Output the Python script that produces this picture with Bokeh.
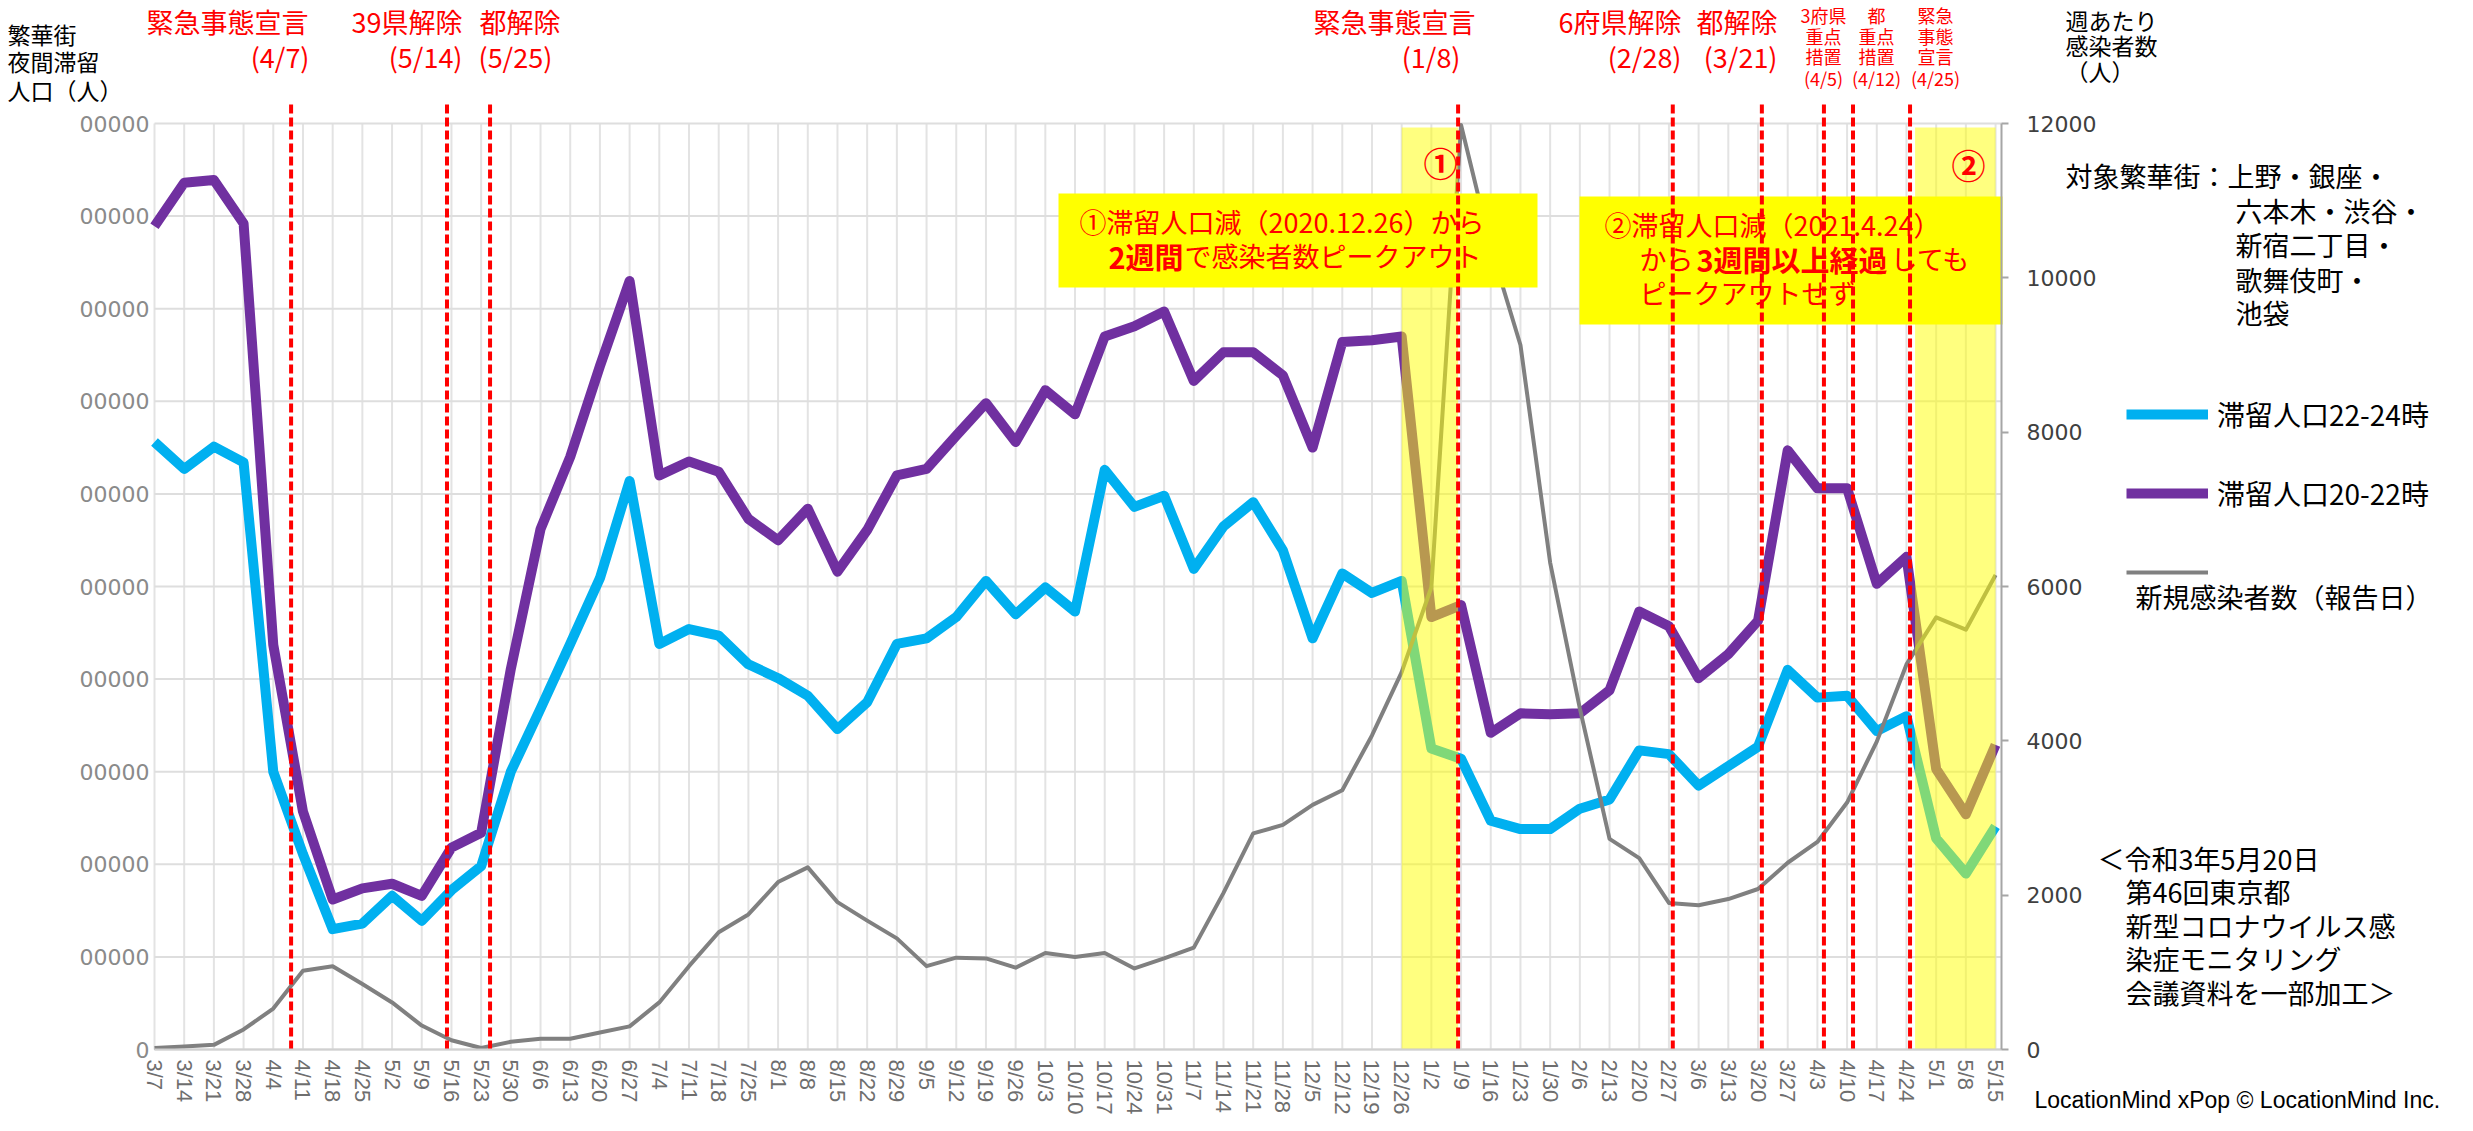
import math
from bokeh.plotting import figure
from bokeh.models import (Range1d, LinearAxis, FixedTicker, Label, Legend, LegendItem,
                          ColumnDataSource)
from bokeh.embed import file_html
from bokeh.resources import INLINE
from bokeh.core.properties import value

# ---------------- data ----------------
dates = ["3/7", "3/14", "3/21", "3/28", "4/4", "4/11", "4/18", "4/25", "5/2", "5/9",
         "5/16", "5/23", "5/30", "6/6", "6/13", "6/20", "6/27", "7/4", "7/11", "7/18",
         "7/25", "8/1", "8/8", "8/15", "8/22", "8/29", "9/5", "9/12", "9/19", "9/26",
         "10/3", "10/10", "10/17", "10/24", "10/31", "11/7", "11/14", "11/21", "11/28", "12/5",
         "12/12", "12/19", "12/26", "1/2", "1/9", "1/16", "1/23", "1/30", "2/6", "2/13",
         "2/20", "2/27", "3/6", "3/13", "3/20", "3/27", "4/3", "4/10", "4/17", "4/24",
         "5/1", "5/8", "5/15"]

pop_22_24 = [656000, 627000, 651000, 634000, 300000, 211000, 130000, 136000, 166000, 139000,
             172000, 198000, 300000, 368000, 438000, 509000, 614000, 438000, 454000, 447000,
             416000, 401000, 382000, 346000, 375000, 438000, 444000, 467000, 506000, 470000,
             499000, 473000, 626000, 586000, 598000, 519000, 565000, 591000, 539000, 444000,
             514000, 493000, 506000, 325000, 314000, 247000, 238000, 238000, 260000, 270000,
             323000, 319000, 285000, 306000, 327000, 410000, 380000, 382000, 344000, 360000,
             228000, 190000, 241000]

pop_20_22 = [889000, 936000, 939000, 892000, 437000, 257000, 162000, 174000, 179000, 166000,
             218000, 234000, 411000, 562000, 640000, 738000, 830000, 620000, 635000, 624000,
             573000, 550000, 584000, 516000, 561000, 620000, 627000, 663000, 698000, 656000,
             712000, 686000, 770000, 781000, 797000, 722000, 753000, 753000, 728000, 650000,
             764000, 766000, 770000, 467000, 480000, 342000, 363000, 362000, 363000, 388000,
             473000, 457000, 401000, 427000, 463000, 647000, 606000, 606000, 503000, 532000,
             303000, 254000, 329000]

new_cases = [20, 40, 60, 260, 530, 1020, 1080, 850, 610, 310,
             120, 20, 100, 140, 140, 220, 300, 610, 1080, 1520,
             1750, 2170, 2360, 1910, 1670, 1440, 1080, 1190, 1180, 1060,
             1250, 1200, 1250, 1050, 1180, 1320, 2030, 2800, 2910, 3170,
             3360, 4070, 4890, 5990, 11980, 10400, 9130, 6310, 4420, 2730,
             2480, 1900, 1870, 1950, 2080, 2420, 2690, 3200, 3990, 4990,
             5600, 5440, 6150]

left_ticks = [0, 100000, 200000, 300000, 400000, 500000, 600000, 700000, 800000, 900000, 1000000]
left_tick_labels = ["0", "00000", "00000", "00000", "00000", "00000",
                    "00000", "00000", "00000", "00000", "00000"]
right_ticks = [0, 2000, 4000, 6000, 8000, 10000, 12000]

series_names = ["滞留人口22-24時", "滞留人口20-22時", "新規感染者数（報告日）"]

# event markers (position on the weekly axis, as drawn in the source chart)
event_labels = ["4/7", "5/14", "5/25", "1/8", "2/28", "3/21", "4/5", "4/12", "4/25"]
event_pos = [4.6, 9.85, 11.3, 43.9, 51.13, 54.13, 56.22, 57.2, 59.12]
# highlighted periods: 12/26 -> 1/8 and 4/26 -> 5/15
band_start = [42.0, 59.29]
band_end = [43.9, 62.0]

# ---------------- geometry (page px -> data) ----------------
W, H = 2457, 1115
PAGE_L, PAGE_T = 8, 8
FRAME_L, FRAME_R, FRAME_B = 162, 2009, 1057
X_END = 62.2
PX_PER_UNIT = 92.6 / 100000.0
CASE_PX = 926.0 / 12000.0


def PX(xp):
    return (xp - FRAME_L) * X_END / (FRAME_R - FRAME_L)


def PY(yp):
    return (FRAME_B - yp) / PX_PER_UNIT


def PC(yp):
    return (FRAME_B - yp) / CASE_PX


p = figure(width=W, height=H,
           x_range=Range1d(PX(PAGE_L), PX(PAGE_L + W)),
           y_range=Range1d(PY(PAGE_T + H), PY(PAGE_T)),
           x_axis_type=None, y_axis_type=None,
           output_backend="svg", toolbar_location=None,
           min_border=0, min_border_left=0, min_border_right=0,
           min_border_top=0, min_border_bottom=0,
           outline_line_color=None, background_fill_color="white")
p.extra_y_ranges = {"cases": Range1d(PC(PAGE_T + H), PC(PAGE_T))}

x = list(range(len(dates)))
src = ColumnDataSource(dict(x=x, a=pop_22_24, b=pop_20_22, c=new_cases,
                            y0=[0] * len(x), y1=[left_ticks[-1]] * len(x)))
grid_src = ColumnDataSource(dict(y=left_ticks, x0=[0] * len(left_ticks),
                                 x1=[X_END] * len(left_ticks)))

# grid lines
p.segment(x0="x", y0="y0", x1="x", y1="y1", source=src, line_color="#E3E3E3",
          line_width=2, level="underlay")
p.segment(x0="x0", y0="y", x1="x1", y1="y", source=grid_src, line_color="#DEDEDE",
          line_width=2, level="underlay")

# x axis (fixed at y = 0)
xa = LinearAxis(ticker=FixedTicker(ticks=x), fixed_location=0, bounds=(0, X_END))
xa.major_label_overrides = {i: d for i, d in enumerate(dates)}
xa.major_label_orientation = -math.pi / 2
xa.major_label_text_font = "Liberation Sans"
xa.major_label_text_font_size = "22px"
xa.major_label_text_color = "#6E6E6E"
xa.axis_line_color = "#D0D0D0"
xa.axis_line_width = 2
xa.major_tick_line_color = None
xa.major_tick_out = 0
xa.minor_tick_line_color = None
xa.major_label_standoff = 10
p.add_layout(xa, "below")

# left axis (fixed at x = 0)
ya = LinearAxis(ticker=FixedTicker(ticks=left_ticks), fixed_location=0,
                bounds=(0, left_ticks[-1]))
ya.major_label_overrides = dict(zip(left_ticks, left_tick_labels))
ya.axis_line_color = None
ya.major_tick_line_color = None
ya.major_tick_out = 0
ya.minor_tick_line_color = None
ya.major_label_text_font = "DejaVu Sans"
ya.major_label_text_font_size = "22px"
ya.major_label_text_color = "#8A8A8A"
ya.major_label_standoff = 5
p.add_layout(ya, "left")

# right axis (fixed at the right end)
ax = LinearAxis(y_range_name="cases", ticker=FixedTicker(ticks=right_ticks),
                fixed_location=X_END, bounds=(0, 12000))
ax.axis_line_color = "#A6A6A6"
ax.axis_line_width = 2
ax.major_tick_line_color = "#A6A6A6"
ax.major_tick_line_width = 2
ax.major_tick_out = 7
ax.major_tick_in = 0
ax.minor_tick_line_color = None
ax.major_label_text_font = "DejaVu Sans"
ax.major_label_text_font_size = "22px"
ax.major_label_text_color = "#404040"
ax.major_label_standoff = 18
p.add_layout(ax, "right")

CYAN, PURPLE, GRAY = "#00B0F0", "#7030A0", "#808080"

# lines
r_cyan = p.line("x", "a", source=src, line_color=CYAN, line_width=10, line_join="round")
r_purple = p.line("x", "b", source=src, line_color=PURPLE, line_width=10, line_join="round")
r_gray = p.line("x", "c", source=src, y_range_name="cases", line_color=GRAY,
                line_width=4, line_join="round")

# highlight bands (semi transparent yellow over the lines)
band_src = ColumnDataSource(dict(l=band_start, r=band_end,
                                 b=[0] * len(band_start), t=[PY(135)] * len(band_start)))
p.quad(left="l", right="r", bottom="b", top="t", source=band_src,
       fill_color="#FFFF00", fill_alpha=0.5, line_alpha=0)

# callout boxes
p.quad(left=[PX(1066), PX(1587)], right=[PX(1545), PX(2010)],
       bottom=[PY(295), PY(332)], top=[PY(201), PY(204)],
       fill_color="#FFFF00", fill_alpha=1, line_alpha=0)

# event lines
ev_src = ColumnDataSource(dict(x=event_pos, y0=[0] * len(event_pos),
                               y1=[PY(110)] * len(event_pos)))
p.segment(x0="x", y0="y0", x1="x", y1="y1", source=ev_src, line_color="#FF0000",
          line_width=4, line_dash="9 4")

JP = "Noto Sans CJK JP"
RED = "#FF0000"


def lab(xp, yp, text, size="27px", color="#000000", align="left", bold=False, font=JP):
    p.add_layout(Label(x=PX(xp), y=PY(yp), text=text, text_font=font, text_font_size=size,
                       text_color=color, text_align=align, text_baseline="middle",
                       text_font_style="bold" if bold else "normal"))


# top event labels
big = [("緊急事態宣言", "(4/7)", 316, 317, "right"),
       ("39県解除", "(5/14)", 470, 470, "right"),
       ("都解除", "(5/25)", 487, 486, "left"),
       ("緊急事態宣言", "(1/8)", 1483, 1468, "right"),
       ("6府県解除", "(2/28)", 1689, 1689, "right"),
       ("都解除", "(3/21)", 1785, 1785, "right")]
for t1, t2, x1, x2, al in big:
    lab(x1, 29, t1, "27px", RED, al)
    lab(x2, 64, t2, "27px", RED, al)

small = [(["3府県", "重点", "措置", "(4/5)"], 1831),
         (["都", "重点", "措置", "(4/12)"], 1884),
         (["緊急", "事態", "宣言", "(4/25)"], 1943)]
for rows, xc in small:
    for txt, yy in zip(rows, [22, 43, 63, 85]):
        lab(xc, yy, txt, "18px", RED, "center")

# axis titles
for txt, yy in zip(["繁華街", "夜間滞留", "人口（人）"], [41, 68, 97]):
    lab(15, yy, txt, "23px")
for txt, yy in zip(["週あたり", "感染者数", "（人）"], [27, 52, 78]):
    lab(2073, yy, txt, "23px")

# circled numbers
lab(1448, 170, "①", "34px", RED, "center", True)
lab(1976, 172, "②", "34px", RED, "center", True)

# box 1 text
lab(1087, 229, "①滞留人口減（2020.12.26）から", "27px", RED)
lab(1116, 263, "2週間", "29px", RED, bold=True)
lab(1192, 263, "で感染者数ピークアウト", "27px", RED)

# box 2 text
lab(1612, 232, "②滞留人口減（2021.4.24）", "27px", RED)
lab(1647, 266, "から", "27px", RED)
lab(1704, 266, "3週間以上経過", "29px", RED, bold=True)
lab(1898, 266, "しても", "27px", RED)
lab(1647, 300, "ピークアウトせず", "27px", RED)

# target districts
lab(2073, 183, "対象繁華街：上野・銀座・", "27px")
for txt, yy in zip(["六本木・渋谷・", "新宿二丁目・", "歌舞伎町・", "池袋"], [218, 252, 287, 320]):
    lab(2243, yy, txt, "27px")

# source note
lab(2105, 866, "＜令和3年5月20日", "27px")
for txt, yy in zip(["第46回東京都", "新型コロナウイルス感", "染症モニタリング", "会議資料を一部加工＞"],
                   [899, 933, 966, 1000]):
    lab(2133, yy, txt, "27px")

lab(2042, 1107, "LocationMind xPop © LocationMind Inc.", "23px", "#000000", font="Liberation Sans")

# legend
legend = Legend(items=[LegendItem(label=value(series_names[0]), renderers=[r_cyan]),
                       LegendItem(label=value(series_names[1]), renderers=[r_purple]),
                       LegendItem(label=value(" "), renderers=[r_gray])],
                location=(2134 - PAGE_L, (PAGE_T + H) - 600), orientation="vertical",
                glyph_width=82, glyph_height=40, label_height=40, spacing=39,
                padding=0, margin=0, border_line_color=None, background_fill_alpha=0,
                label_text_font=JP, label_text_font_size="28px", label_standoff=9,
                label_text_color="#000000")
p.add_layout(legend)
lab(2143, 604, series_names[2], "27px")

open("out.html", "w").write(file_html(p, INLINE))
